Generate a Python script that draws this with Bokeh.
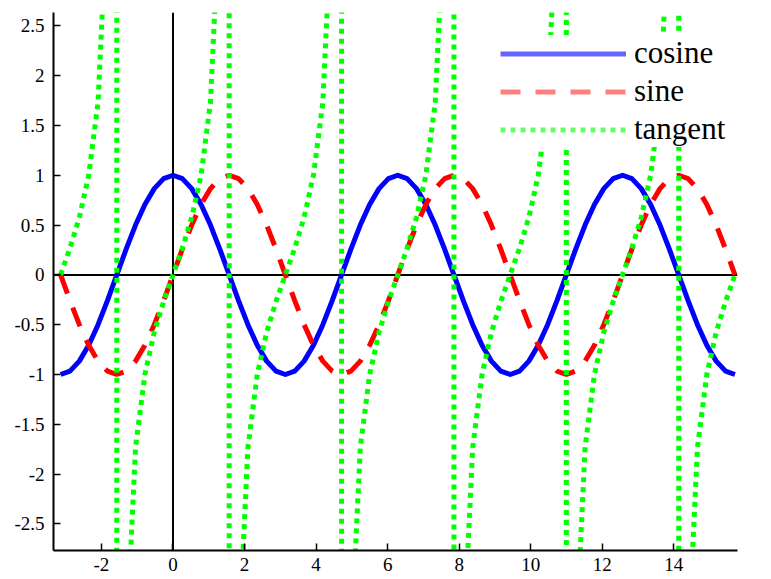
from bokeh.plotting import figure
from bokeh.models import Range1d, Span, Legend, LegendItem, FixedTicker
from bokeh.embed import file_html
from bokeh.resources import INLINE

# sample positions (radians), step pi/12 from -pi to 5*pi
x = [-3.1416, -2.8798, -2.6180, -2.3562, -2.0944, -1.8326, -1.5708, -1.3090, -1.0472, -0.7854,
     -0.5236, -0.2618, 0.0, 0.2618, 0.5236, 0.7854, 1.0472, 1.3090, 1.5708, 1.8326,
     2.0944, 2.3562, 2.6180, 2.8798, 3.1416, 3.4034, 3.6652, 3.9270, 4.1888, 4.4506,
     4.7124, 4.9742, 5.2360, 5.4978, 5.7596, 6.0214, 6.2832, 6.5450, 6.8068, 7.0686,
     7.3304, 7.5922, 7.8540, 8.1158, 8.3776, 8.6394, 8.9012, 9.1630, 9.4248, 9.6866,
     9.9484, 10.2102, 10.4720, 10.7338, 10.9956, 11.2574, 11.5192, 11.7810, 12.0428, 12.3046,
     12.5664, 12.8282, 13.0900, 13.3518, 13.6136, 13.8754, 14.1372, 14.3990, 14.6608, 14.9226,
     15.1844, 15.4462, 15.7080]

cosine = [-1, -0.9659, -0.866, -0.7071, -0.5, -0.2588, 0, 0.2588, 0.5, 0.7071, 0.866, 0.9659, 1,
          0.9659, 0.866, 0.7071, 0.5, 0.2588, 0, -0.2588, -0.5, -0.7071, -0.866, -0.9659, -1,
          -0.9659, -0.866, -0.7071, -0.5, -0.2588, 0, 0.2588, 0.5, 0.7071, 0.866, 0.9659, 1,
          0.9659, 0.866, 0.7071, 0.5, 0.2588, 0, -0.2588, -0.5, -0.7071, -0.866, -0.9659, -1,
          -0.9659, -0.866, -0.7071, -0.5, -0.2588, 0, 0.2588, 0.5, 0.7071, 0.866, 0.9659, 1,
          0.9659, 0.866, 0.7071, 0.5, 0.2588, 0, -0.2588, -0.5, -0.7071, -0.866, -0.9659, -1]

sine = [0, -0.2588, -0.5, -0.7071, -0.866, -0.9659, -1, -0.9659, -0.866, -0.7071, -0.5, -0.2588,
        0, 0.2588, 0.5, 0.7071, 0.866, 0.9659, 1, 0.9659, 0.866, 0.7071, 0.5, 0.2588,
        0, -0.2588, -0.5, -0.7071, -0.866, -0.9659, -1, -0.9659, -0.866, -0.7071, -0.5, -0.2588,
        0, 0.2588, 0.5, 0.7071, 0.866, 0.9659, 1, 0.9659, 0.866, 0.7071, 0.5, 0.2588,
        0, -0.2588, -0.5, -0.7071, -0.866, -0.9659, -1, -0.9659, -0.866, -0.7071, -0.5, -0.2588,
        0, 0.2588, 0.5, 0.7071, 0.866, 0.9659, 1, 0.9659, 0.866, 0.7071, 0.5, 0.2588,
        0]

# tangent: same samples, each asymptote given twice (far above, then far below)
tan_x = [-3.1416, -2.8798, -2.6180, -2.3562, -2.0944, -1.8326, -1.5708, -1.5708, -1.3090, -1.0472,
         -0.7854, -0.5236, -0.2618, 0.0, 0.2618, 0.5236, 0.7854, 1.0472, 1.3090, 1.5708,
         1.5708, 1.8326, 2.0944, 2.3562, 2.6180, 2.8798, 3.1416, 3.4034, 3.6652, 3.9270,
         4.1888, 4.4506, 4.7124, 4.7124, 4.9742, 5.2360, 5.4978, 5.7596, 6.0214, 6.2832,
         6.5450, 6.8068, 7.0686, 7.3304, 7.5922, 7.8540, 7.8540, 8.1158, 8.3776, 8.6394,
         8.9012, 9.1630, 9.4248, 9.6866, 9.9484, 10.2102, 10.4720, 10.7338, 10.9956, 10.9956,
         11.2574, 11.5192, 11.7810, 12.0428, 12.3046, 12.5664, 12.8282, 13.0900, 13.3518, 13.6136,
         13.8754, 14.1372, 14.1372, 14.3990, 14.6608, 14.9226, 15.1844, 15.4462, 15.7080]

tangent = [0, 0.2679, 0.5774, 1, 1.7321, 3.7321, 1000, -1000, -3.7321, -1.7321,
           -1, -0.5774, -0.2679, 0, 0.2679, 0.5774, 1, 1.7321, 3.7321, 1000,
           -1000, -3.7321, -1.7321, -1, -0.5774, -0.2679, 0, 0.2679, 0.5774, 1,
           1.7321, 3.7321, 1000, -1000, -3.7321, -1.7321, -1, -0.5774, -0.2679, 0,
           0.2679, 0.5774, 1, 1.7321, 3.7321, 1000, -1000, -3.7321, -1.7321, -1,
           -0.5774, -0.2679, 0, 0.2679, 0.5774, 1, 1.7321, 3.7321, 1000, -1000,
           -3.7321, -1.7321, -1, -0.5774, -0.2679, 0, 0.2679, 0.5774, 1, 1.7321,
           3.7321, 1000, -1000, -3.7321, -1.7321, -1, -0.5774, -0.2679, 0]

series_names = ["cosine", "sine", "tangent"]

x_ticks = [-2, 0, 2, 4, 6, 8, 10, 12, 14]
x_tick_labels = ["-2", "0", "2", "4", "6", "8", "10", "12", "14"]
y_ticks = [-2.5, -2.0, -1.5, -1.0, -0.5, 0.0, 0.5, 1.0, 1.5, 2.0, 2.5]
y_tick_labels = ["-2.5", "-2", "-1.5", "-1", "-0.5", "0", "0.5", "1", "1.5", "2", "2.5"]

FONT = "Liberation Serif"

p = figure(width=771, height=579, output_backend="svg", toolbar_location=None,
           x_range=Range1d(-3.34, 15.78), y_range=Range1d(-2.767, 2.634),
           min_border_left=53, min_border_right=34, min_border_top=12, min_border_bottom=29)
p.xgrid.visible = False
p.ygrid.visible = False
p.outline_line_color = None
p.background_fill_color = "white"
p.border_fill_color = "white"

p.axis.axis_line_color = "black"
p.axis.axis_line_width = 2
p.axis.major_tick_in = 7
p.axis.major_tick_out = 0
p.axis.major_tick_line_color = "black"
p.axis.major_tick_line_width = 1.5
p.axis.minor_tick_line_color = None
p.axis.major_label_text_font = FONT
p.axis.major_label_text_font_size = "19px"
p.axis.major_label_text_color = "black"

p.xaxis[0].ticker = FixedTicker(ticks=x_ticks)
p.xaxis[0].major_label_overrides = dict(zip(x_ticks, x_tick_labels))
p.xaxis[0].major_label_standoff = 7
p.yaxis[0].ticker = FixedTicker(ticks=y_ticks)
p.yaxis[0].major_label_overrides = dict(zip(y_ticks, y_tick_labels))
p.yaxis[0].major_label_standoff = 9

p.add_layout(Span(location=0, dimension="width", line_color="black", line_width=2, level="underlay"))
p.add_layout(Span(location=0, dimension="height", line_color="black", line_width=2, level="underlay"))

p.line(x, cosine, line_color="#0000ff", line_width=5, line_join="round")
p.line(x, sine, line_color="#ff0000", line_width=5, line_dash="20 15")
p.line(tan_x, tangent, line_color="#00ff00", line_width=5, line_dash="5 5")

# hidden copies, used only for the lighter legend swatches
l_cos = p.line(x, cosine, line_color="#0000ff", line_alpha=0.6, line_width=5, visible=False)
l_sin = p.line(x, sine, line_color="#ff0000", line_alpha=0.5, line_width=5, line_dash="20 15", visible=False)
l_tan = p.line(tan_x, tangent, line_color="#00ff00", line_alpha=0.6, line_width=5, line_dash="5 5", visible=False)

legend = Legend(items=[LegendItem(label=series_names[0], renderers=[l_cos]),
                       LegendItem(label=series_names[1], renderers=[l_sin]),
                       LegendItem(label=series_names[2], renderers=[l_tan])],
                location=(447, 403), label_text_font=FONT, label_text_font_size="31px",
                label_text_color="black", glyph_width=126, glyph_height=33, label_height=33,
                spacing=2, padding=7, margin=0, border_line_color=None,
                background_fill_color="white", background_fill_alpha=1.0, label_standoff=8,
                inactive_fill_alpha=0.0)
p.add_layout(legend)

open("out.html", "w").write(file_html(p, INLINE))
